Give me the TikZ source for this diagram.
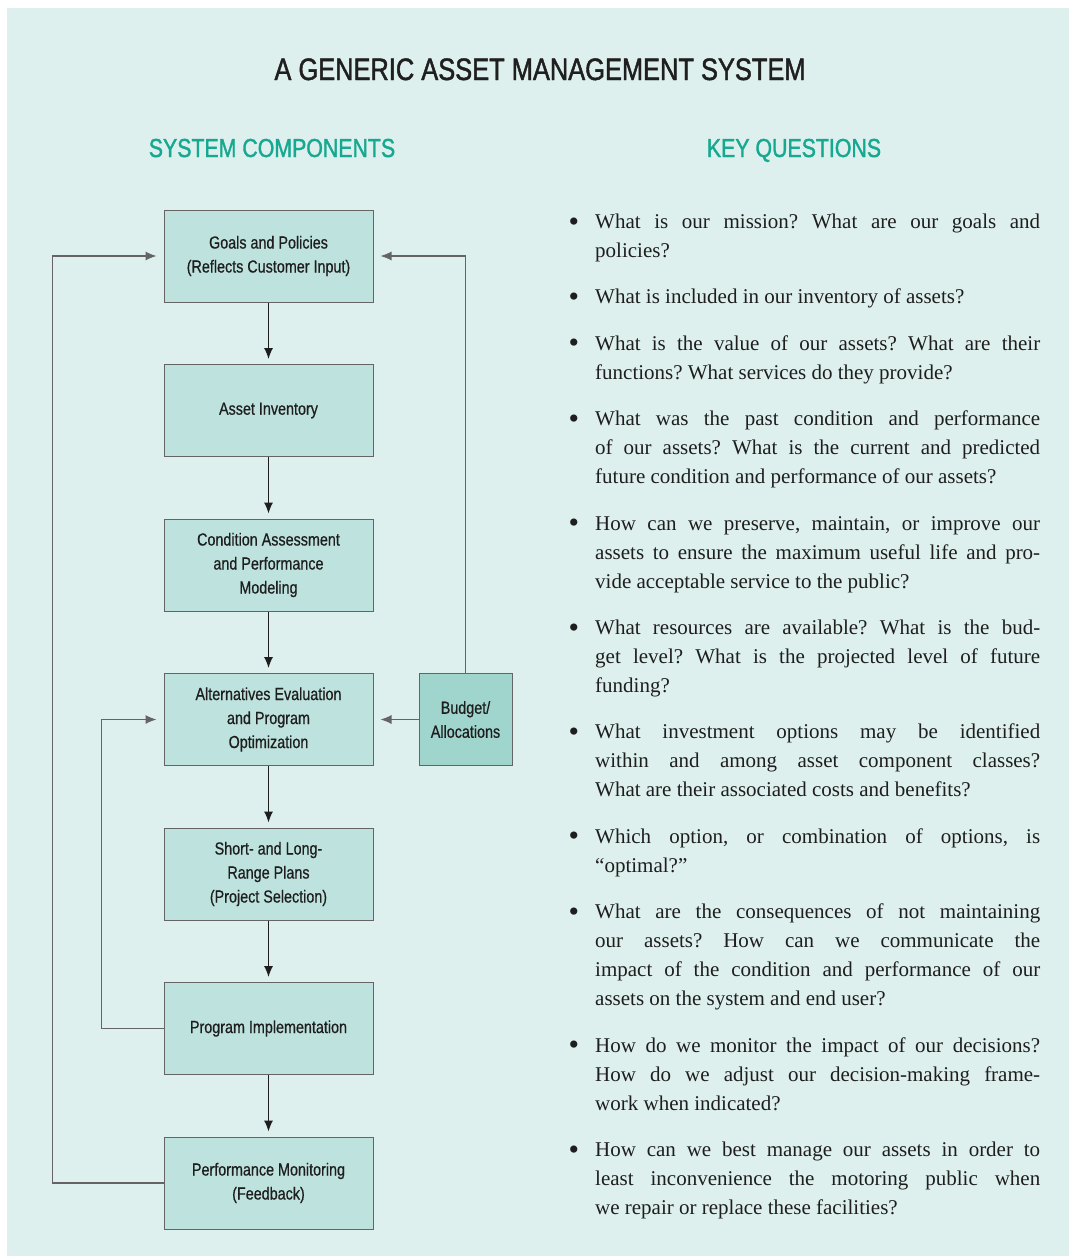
\documentclass[tikz,border=0pt]{standalone}
\usepackage{fontspec}
\setmainfont{Liberation Serif}
\newfontfamily\condsans[FakeStretch=0.82, FakeBold=0.6]{Liberation Sans}
\newfontfamily\condsanshead[FakeStretch=0.82, FakeBold=1.4]{Liberation Sans}
\usetikzlibrary{positioning, arrows.meta}

\definecolor{paneteal}{RGB}{221,240,237}
\definecolor{boxteal}{RGB}{190,227,222}
\definecolor{budgetteal}{RGB}{160,213,205}
\definecolor{headteal}{RGB}{22,168,145}
\definecolor{edgegray}{RGB}{100,100,100}
\definecolor{inkgray}{RGB}{30,30,30}

\tolerance=10000
\hbadness=10000
\frenchspacing

\newcommand{\question}[1]{\strut\llap{\raisebox{-2.5pt}{\fontsize{30}{29}\selectfont\textbullet}\hspace{16pt}}#1\strut}

\begin{document}
\begin{tikzpicture}[x=1pt, y=1pt,
    compbox/.style = {shape=rectangle, draw=edgegray, line width=1pt,
      fill=boxteal, minimum width=209pt, minimum height=92pt,
      align=center, text=inkgray,
      font=\condsans\fontsize{17.5}{24}\selectfont},
    budgetbox/.style = {compbox, fill=budgetteal, minimum width=93pt},
    heading/.style = {anchor=base, font=\condsanshead\fontsize{26}{30}\selectfont, text=headteal},
    qtext/.style = {text width=445pt, align=justify, inner sep=0pt,
      anchor=north west, text=inkgray, font=\fontsize{21}{29}\selectfont},
    qafter/.style = {qtext, below=17pt of #1.south west, anchor=north west},
    line/.style = {draw=inkgray, line width=1.1pt, -{Latex[length=11pt, width=9pt]}, shorten >=5pt},
    feedback/.style = {draw=edgegray, line width=1.1pt, -{Latex[length=11pt, width=9pt]}, shorten >=7pt},
    node distance=61.5pt]

  \useasboundingbox (0,0) rectangle (1069,-1256);
  \fill[paneteal] (7,-8) rectangle (1069,-1256);

  \node[anchor=base, font=\condsanshead\fontsize{31}{36}\selectfont, text=black!88] (title) at (540,-80)
    {A GENERIC ASSET MANAGEMENT SYSTEM};
  \node[heading] (comphead) at (272,-157) {SYSTEM COMPONENTS};
  \node[heading] (keyhead) at (794,-157) {KEY QUESTIONS};

  % system components
  \node[compbox] (goals) at (268.5,-256) {Goals and Policies\\(Reflects Customer Input)};
  \node[compbox, below=of goals] (inventory) {Asset Inventory};
  \node[compbox, below=of inventory] (condition) {Condition Assessment\\and Performance\\Modeling};
  \node[compbox, below=of condition] (alternatives) {Alternatives Evaluation\\and Program\\Optimization};
  \node[compbox, below=of alternatives] (plans) {Short- and Long-\\Range Plans\\(Project Selection)};
  \node[compbox, below=of plans] (implement) {Program Implementation};
  \node[compbox, below=of implement] (monitor) {Performance Monitoring\\(Feedback)};
  \node[budgetbox, right=45pt of alternatives] (budget) {Budget/\\Allocations};

  \draw[line] (goals) -- (inventory);
  \draw[line] (inventory) -- (condition);
  \draw[line] (condition) -- (alternatives);
  \draw[line] (alternatives) -- (plans);
  \draw[line] (plans) -- (implement);
  \draw[line] (implement) -- (monitor);

  \draw[feedback] (budget) -- (alternatives);
  \draw[feedback] (budget.north) |- (goals.east);
  \draw[feedback] (monitor.west) -- ++(-111,0) |- (goals.west);
  \draw[feedback] (implement.west) -- ++(-62,0) |- (alternatives.west);

  % key questions
  \node[qtext] (q1) at (595,-208) {\question{What is our mission? What are our goals and\linebreak policies?}};
  \node[qafter=q1] (q2) {\question{What is included in our inventory of assets?}};
  \node[qafter=q2] (q3) {\question{What is the value of our assets? What are their\linebreak functions? What services do they provide?}};
  \node[qafter=q3] (q4) {\question{What was the past condition and performance\linebreak of our assets? What is the current and predicted\linebreak future condition and performance of our assets?}};
  \node[qafter=q4] (q5) {\question{How can we preserve, maintain, or improve our\linebreak assets to ensure the maximum useful life and pro-\linebreak vide acceptable service to the public?}};
  \node[qafter=q5] (q6) {\question{What resources are available? What is the bud-\linebreak get level? What is the projected level of future\linebreak funding?}};
  \node[qafter=q6] (q7) {\question{What investment options may be identified\linebreak within and among asset component classes?\linebreak What are their associated costs and benefits?}};
  \node[qafter=q7] (q8) {\question{Which option, or combination of options, is\linebreak “optimal?”}};
  \node[qafter=q8] (q9) {\question{What are the consequences of not maintaining\linebreak our assets? How can we communicate the\linebreak impact of the condition and performance of our\linebreak assets on the system and end user?}};
  \node[qafter=q9] (q10) {\question{How do we monitor the impact of our decisions?\linebreak How do we adjust our decision-making frame-\linebreak work when indicated?}};
  \node[qafter=q10] (q11) {\question{How can we best manage our assets in order to\linebreak least inconvenience the motoring public when\linebreak we repair or replace these facilities?}};

\end{tikzpicture}
\end{document}
